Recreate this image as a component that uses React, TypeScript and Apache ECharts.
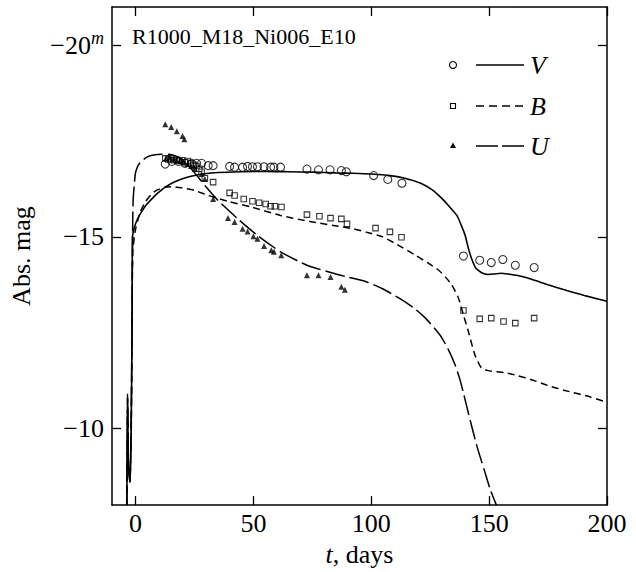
import React, { useEffect, useRef } from "react";
import * as echarts from "echarts";

const FONT = "'Liberation Serif', 'Times New Roman', serif";

const xTicks = [0, 50, 100, 150, 200];
const yTicks = [-20, -15, -10];

const vModel: number[][] = [
  [-3.7, -8.0], [-3.4, -10.8], [-3.0, -9.0], [-2.4, -8.6], [-1.9, -9.8], [-1.5, -12.5], [-1.3, -15.0],
  [-0.5, -15.25], [0.5, -15.42], [1.5, -15.55], [2.8, -15.68], [4.5, -15.83], [7, -16.0], [9.5, -16.15],
  [12.6, -16.3], [16, -16.42], [19.6, -16.51], [24, -16.59], [29.4, -16.65], [35, -16.68], [45, -16.7],
  [55, -16.71], [65, -16.7], [75, -16.69], [85, -16.67], [92, -16.66], [100, -16.64], [108, -16.6],
  [115, -16.52], [121, -16.4], [126, -16.22], [130, -16.0], [133, -15.8], [136.3, -15.56], [138.2, -15.3],
  [139.8, -15.04], [141.2, -14.7], [142.5, -14.44], [144, -14.22], [145.3, -14.13], [147, -14.06],
  [149.5, -14.02], [152, -14.03], [155.1, -14.05], [158, -14.03], [162.1, -13.99], [167.7, -13.9],
  [175, -13.75], [183, -13.6], [191, -13.46], [200, -13.32],
];

const bModel: number[][] = [
  [-3.7, -8.0], [-3.4, -10.6], [-3.0, -9.0], [-2.4, -8.6], [-1.9, -9.6], [-1.5, -12.3], [-1.2, -14.6],
  [0, -15.2], [2, -15.65], [4, -15.9], [6.5, -16.1], [9, -16.22], [12.6, -16.3], [16, -16.31],
  [19.6, -16.28], [25.2, -16.21], [30.8, -16.08], [39.2, -15.93], [49, -15.78], [61.5, -15.56],
  [74.1, -15.4], [83.9, -15.3], [92.3, -15.21], [98, -15.12], [104.8, -15.0], [111, -14.8],
  [118.8, -14.52], [124, -14.32], [128.6, -14.13], [131.5, -13.95], [134.2, -13.74], [137, -13.4],
  [139.1, -12.96], [141.2, -12.53], [143.9, -11.93], [146.7, -11.58], [149.5, -11.51], [156.5, -11.46],
  [162, -11.38], [167.7, -11.28], [175, -11.12], [181.7, -11.0], [193, -10.82], [200, -10.68],
];

const uModel: number[][] = [
  [-3.7, -8.0], [-3.4, -10.9], [-3.0, -9.0], [-2.4, -8.6], [-1.9, -10.0], [-1.5, -13.0], [-1.2, -15.5],
  [-1.0, -16.0], [-0.5, -16.4], [0, -16.68], [1.2, -16.88], [2.8, -16.99], [4.8, -17.08], [7, -17.13],
  [11.2, -17.16], [14, -17.16], [16.8, -17.12], [19.5, -17.02], [22.4, -16.86], [26, -16.6],
  [29.4, -16.34], [35, -15.95], [43.4, -15.47], [51.7, -15.04], [61.5, -14.61], [72.7, -14.26],
  [83.9, -14.05], [89.4, -13.96], [97.8, -13.83], [105, -13.64], [111.8, -13.4], [118, -13.15],
  [123, -12.88], [127, -12.6], [130, -12.36], [133, -12.02], [135.5, -11.67], [137.5, -11.3],
  [139, -10.95], [142, -10.2], [145, -9.5], [148, -8.9], [150.5, -8.4], [153.1, -8.0],
];

const vObs: number[][] = [
  [12.6, -16.9], [15.4, -16.97], [18.2, -16.97], [21.0, -16.92], [23.8, -16.92], [25.9, -16.92],
  [28.0, -16.92], [30.8, -16.86], [32.9, -16.86], [39.9, -16.84], [42.0, -16.82], [45.4, -16.82],
  [47.5, -16.84], [49.6, -16.83], [51.7, -16.83], [54.5, -16.83], [57.3, -16.82], [58.7, -16.82],
  [61.5, -16.82], [72.7, -16.77], [77.6, -16.75], [82.5, -16.75], [87.3, -16.73], [89.4, -16.7],
  [101, -16.6], [107, -16.5], [113, -16.4], [139.1, -14.5], [146, -14.39], [150.9, -14.33],
  [155.8, -14.41], [161.1, -14.26], [169.1, -14.2],
];

const bObs: number[][] = [
  [12.6, -17.05], [13.8, -17.02], [15.0, -17.05], [16.2, -17.0], [17.4, -17.02], [18.6, -16.98],
  [19.8, -17.0], [21.0, -16.95], [22.2, -16.98], [23.4, -16.92], [24.6, -16.88], [25.8, -16.85],
  [27.0, -16.78], [28.0, -16.7], [29.4, -16.53], [32.9, -16.43], [39.9, -16.15], [42, -16.08],
  [45.9, -15.99], [49.6, -15.93], [52.4, -15.89], [55.2, -15.86], [57.3, -15.8], [59.1, -15.8],
  [61.9, -15.78], [72.7, -15.58], [78, -15.54], [82.7, -15.49], [87.3, -15.47], [89.7, -15.34],
  [101.8, -15.23], [107.9, -15.13], [112.8, -14.99], [139.1, -13.08], [146, -12.86], [150.9, -12.88],
  [156.1, -12.79], [161.1, -12.75], [169.1, -12.88],
];

const uObs: number[][] = [
  [12.6, -17.94], [15.1, -17.87], [17.5, -17.76], [19.9, -17.63], [20.7, -17.55],
  [13, -17.05], [14.5, -17.08], [16, -17.02], [17.5, -17.0], [19, -16.98], [20.5, -16.95],
  [22, -16.9], [23.5, -16.85], [25.2, -16.77], [28, -16.64], [29.4, -16.51], [32.9, -15.99],
  [39.2, -15.49], [42, -15.39], [45.4, -15.21], [47.5, -15.14], [50, -15.02], [51.7, -14.95],
  [54.5, -14.76], [57.6, -14.65], [58.7, -14.61], [61.8, -14.52], [72.7, -14.0], [77.6, -14.0],
  [82.7, -13.95], [87.3, -13.7], [88.8, -13.62],
];

const legendItems = ["V", "B", "U"];
const titleText = "R1000_M18_Ni006_E10";

export default function App() {
  const ref = useRef<HTMLDivElement>(null);
  useEffect(() => {
    if (!ref.current) return;
    document.body.style.margin = "0";
    const chart = echarts.init(ref.current, null, { renderer: "svg" });
    const black = "#000";
    const FS = 26;
    const axisCommon = {
      type: "value" as const,
      axisLine: { show: true, onZero: false, lineStyle: { color: black, width: 1.5 } },
      splitLine: { show: false },
    };
    const lgX = 453;
    const lgY = [65, 106, 146];
    const option: any = {
      animation: false,
      backgroundColor: "#fff",
      grid: { left: 106, right: 29, top: 7, bottom: 64, containLabel: false },
      xAxis: [
        {
          ...axisCommon,
          min: -10,
          max: 200,
          position: "bottom",
          axisTick: { inside: true, length: 9, customValues: xTicks, lineStyle: { color: black, width: 1.3 } },
          axisLabel: { customValues: xTicks, color: black, fontFamily: FONT, fontSize: FS, margin: 5 },
          name: "{i|t}, days",
          nameLocation: "middle",
          nameGap: 27,
          nameTextStyle: {
            color: black,
            fontFamily: FONT,
            fontSize: FS,
            rich: { i: { fontStyle: "italic", fontFamily: FONT, fontSize: FS, color: black } },
          },
        },
        {
          ...axisCommon,
          min: -10,
          max: 200,
          position: "top",
          axisTick: { inside: true, length: 9, customValues: xTicks, lineStyle: { color: black, width: 1.3 } },
          axisLabel: { show: false },
        },
      ],
      yAxis: [
        {
          ...axisCommon,
          min: -21,
          max: -8,
          inverse: true,
          position: "left",
          axisTick: { inside: true, length: 9, customValues: yTicks, lineStyle: { color: black, width: 1.3 } },
          axisLabel: {
            customValues: yTicks,
            color: black,
            fontFamily: FONT,
            fontSize: FS,
            margin: 8,
            formatter: (v: number) => (v === -20 ? "{n|−20}{s|m}" : "−" + Math.abs(v)),
            rich: {
              n: { fontFamily: FONT, fontSize: FS, color: black },
              s: { fontFamily: FONT, fontSize: 18, fontStyle: "italic", color: black, padding: [0, 0, 14, 0] },
            },
          },
          name: "Abs. mag",
          nameLocation: "middle",
          nameGap: 78,
          nameTextStyle: { color: black, fontFamily: FONT, fontSize: FS },
        },
        {
          ...axisCommon,
          min: -21,
          max: -8,
          inverse: true,
          position: "right",
          axisTick: { inside: true, length: 9, customValues: yTicks, lineStyle: { color: black, width: 1.3 } },
          axisLabel: { show: false },
        },
      ],
      series: [
        {
          type: "line", name: "V", data: vModel, showSymbol: false, symbol: "none", smooth: 0.2,
          lineStyle: { color: black, width: 1.6, type: "solid" }, z: 3,
        },
        {
          type: "line", name: "B", data: bModel, showSymbol: false, symbol: "none", smooth: 0.2,
          lineStyle: { color: black, width: 1.5, type: [7, 4.5] }, z: 3,
        },
        {
          type: "line", name: "U", data: uModel, showSymbol: false, symbol: "none", smooth: 0.2,
          lineStyle: { color: black, width: 1.5, type: [20, 5] }, z: 3,
        },
        {
          type: "scatter", name: "V obs", data: vObs, symbol: "circle", symbolSize: 8,
          itemStyle: { color: "rgba(255,255,255,0)", borderColor: black, borderWidth: 1.1 }, z: 4,
        },
        {
          type: "scatter", name: "B obs", data: bObs, symbol: "rect", symbolSize: 5.5,
          itemStyle: { color: "rgba(255,255,255,0)", borderColor: black, borderWidth: 1.1 }, z: 4,
        },
        {
          type: "scatter", name: "U obs", data: uObs, symbol: "triangle", symbolSize: 6,
          itemStyle: { color: black }, z: 4,
        },
      ],
      graphic: [
        {
          type: "text", left: 132, top: 25,
          style: { text: titleText, fill: black, font: `22px ${FONT}` },
        },
        { type: "circle", shape: { cx: lgX, cy: lgY[0], r: 3.5 }, style: { fill: "none", stroke: black, lineWidth: 1.1 } },
        { type: "line", shape: { x1: 476, y1: lgY[0], x2: 524, y2: lgY[0] }, style: { stroke: black, lineWidth: 1.6 } },
        { type: "rect", shape: { x: lgX - 2.5, y: lgY[1] - 2.5, width: 5, height: 5 }, style: { fill: "none", stroke: black, lineWidth: 1.1 } },
        { type: "line", shape: { x1: 476, y1: lgY[1], x2: 524, y2: lgY[1] }, style: { stroke: black, lineWidth: 1.5, lineDash: [8, 5] } },
        { type: "polygon", shape: { points: [[lgX, lgY[2] - 3.5], [lgX + 3, lgY[2] + 2], [lgX - 3, lgY[2] + 2]] }, style: { fill: black } },
        { type: "line", shape: { x1: 476, y1: lgY[2], x2: 524, y2: lgY[2] }, style: { stroke: black, lineWidth: 1.5, lineDash: [22, 4] } },
        ...legendItems.map((t, i) => ({
          type: "text", x: 530, y: lgY[i],
          style: { text: t, fill: black, font: `italic 26px ${FONT}`, textVerticalAlign: "middle", verticalAlign: "middle" },
        })),
      ],
    };
    chart.setOption(option);
    return () => chart.dispose();
  }, []);
  return <div ref={ref} style={{ width: 636, height: 572 }} />;
}
